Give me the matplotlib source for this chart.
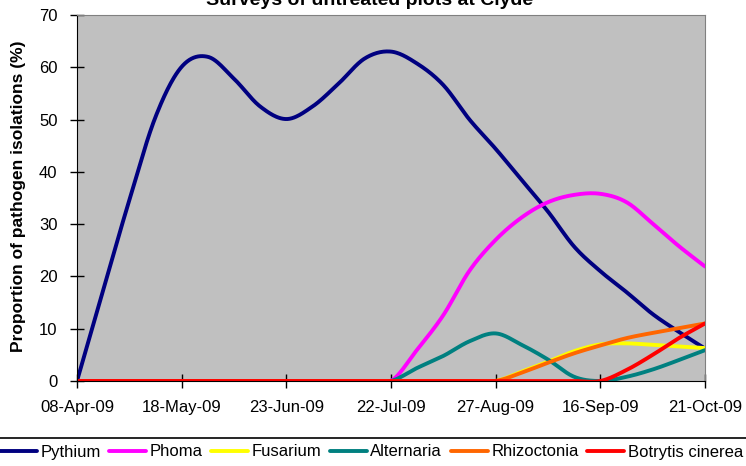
import numpy as np
import matplotlib
matplotlib.use("Agg")
import matplotlib.pyplot as plt
from matplotlib.lines import Line2D

plt.rcParams['font.family'] = ['Liberation Sans', 'DejaVu Sans']

# 25 survey dates, only every fourth one is labelled on the axis
date_labels = ['08-Apr-09', '18-May-09', '23-Jun-09', '22-Jul-09',
               '27-Aug-09', '16-Sep-09', '21-Oct-09']
label_every = 4

pythium = [0, 17.4, 34.6, 50.5, 60.1, 62.0, 57.8, 52.5, 50.1, 52.5, 56.9, 61.7, 63.0,
           60.7, 56.6, 50.0, 44.4, 38.4, 32.4, 25.7, 21.0, 17.0, 12.8, 9.4, 6.2]
phoma = [0, 0, 0, 0, 0, 0, 0, 0, 0, 0, 0, 0, 0,
         6.0, 12.6, 21.1, 27.0, 31.3, 34.2, 35.6, 35.8, 34.2, 30.1, 25.8, 21.9]
fusarium = [0, 0, 0, 0, 0, 0, 0, 0, 0, 0, 0, 0, 0, 0, 0, 0, 0,
            1.8, 3.7, 5.7, 7.0, 7.2, 6.9, 6.6, 6.3]
alternaria = [0, 0, 0, 0, 0, 0, 0, 0, 0, 0, 0, 0, 0,
              2.5, 4.8, 7.6, 9.1, 6.9, 4.1, 0.8, 0, 0.8, 2.2, 4.0, 5.9]
rhizoctonia = [0, 0, 0, 0, 0, 0, 0, 0, 0, 0, 0, 0, 0, 0, 0, 0, 0,
               1.6, 3.5, 5.3, 6.8, 8.2, 9.2, 10.1, 11.0]
botrytis = [0, 0, 0, 0, 0, 0, 0, 0, 0, 0, 0, 0, 0, 0, 0, 0, 0, 0, 0, 0, 0,
            2.1, 5.0, 8.2, 11.0]

series = [('Pythium', pythium, '#000080'),
          ('Phoma', phoma, '#FF00FF'),
          ('Fusarium', fusarium, '#FFFF00'),
          ('Alternaria', alternaria, '#008080'),
          ('Rhizoctonia', rhizoctonia, '#FF6600'),
          ('Botrytis cinerea', botrytis, '#FF0000')]


def smooth(y, steps=24):
    # Excel-style smoothed line: bezier segments, control points at 1/6 of neighbour span
    y = np.asarray(y, dtype=float)
    x = np.arange(len(y), dtype=float)
    xp = np.concatenate([[x[0]], x, [x[-1]]])
    yp = np.concatenate([[y[0]], y, [y[-1]]])
    t = np.linspace(0, 1, steps, endpoint=False)[:, None]
    out = []
    for i in range(len(y) - 1):
        p0 = np.array([xp[i], yp[i]])
        p1 = np.array([xp[i + 1], yp[i + 1]])
        p2 = np.array([xp[i + 2], yp[i + 2]])
        p3 = np.array([xp[i + 3], yp[i + 3]])
        c1 = p1 + (p2 - p0) / 6.0
        c2 = p2 - (p3 - p1) / 6.0
        seg = ((1 - t) ** 3) * p1 + 3 * ((1 - t) ** 2) * t * c1 + 3 * (1 - t) * t ** 2 * c2 + t ** 3 * p2
        out.append(seg)
    out.append(np.array([[x[-1], y[-1]]]))
    pts = np.vstack(out)
    return pts[:, 0], pts[:, 1]


fig = plt.figure(figsize=(7.46, 4.66), dpi=100)
ax = fig.add_axes([77 / 746, 1 - 381 / 466, (705 - 77) / 746, (381 - 15) / 466])
ax.set_facecolor('#C0C0C0')

handles = []
for name, vals, col in series:
    sx, sy = smooth(vals)
    ax.plot(sx, sy, color=col, lw=2.8, solid_capstyle='round')
    handles.append(Line2D([0], [0], color=col, lw=2.8, solid_capstyle='round'))

n = len(pythium)
ax.set_xlim(0, n - 1)
ax.set_ylim(0, 70)
ax.set_yticks(range(0, 71, 10))
ax.set_xticks(range(0, n, label_every))
ax.set_xticklabels(date_labels)

for side in ['top', 'right']:
    ax.spines[side].set_color('#808080')
for side in ['left', 'bottom']:
    ax.spines[side].set_color('black')
ax.tick_params(axis='y', direction='inout', length=10, width=1, labelsize=12, pad=9)
ax.tick_params(axis='x', direction='inout', length=10, width=1, labelsize=12, pad=9)

fig.text(19 / 746, 1 - 196 / 466, 'Proportion of pathogen isolations (%)', rotation=90,
         ha='center', va='center', fontsize=12.5, weight='bold')
fig.text(0.495, 1 - 5 / 466, 'Surveys of untreated plots at Clyde', ha='center',
         va='baseline', fontsize=14, weight='bold')

fig.add_artist(Line2D([0, 1], [1 - 438 / 466, 1 - 438 / 466], color='black', lw=1.2))
fig.legend(handles, [s[0] for s in series], loc='center left',
           bbox_to_anchor=(0, 1 - 452 / 466), ncol=6, frameon=False, fontsize=12,
           handlelength=2.2, handletextpad=0.22, columnspacing=0.52,
           borderaxespad=0, borderpad=0)

fig.savefig('out.png', dpi=100)
